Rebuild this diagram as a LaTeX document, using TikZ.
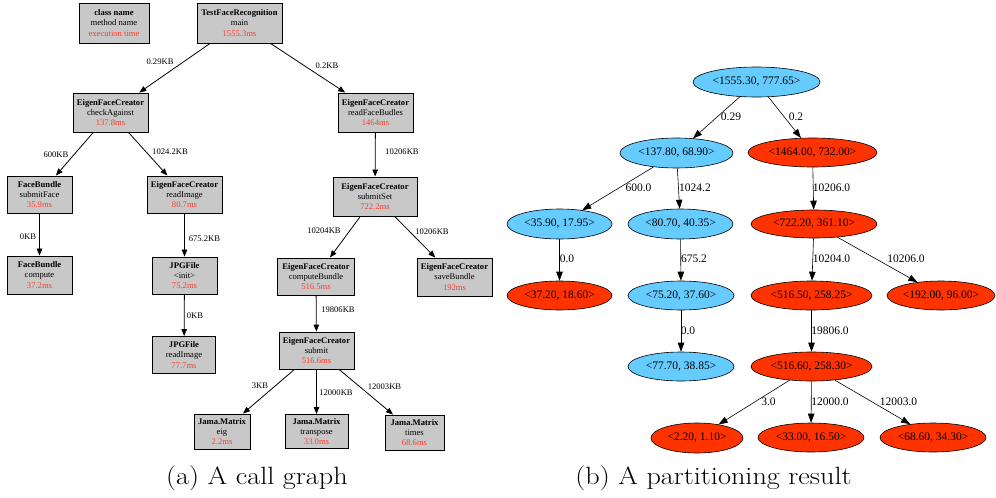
\documentclass[tikz,border=0pt]{standalone}
\usepackage{fontspec}
\usepackage{graphicx}
\newfontfamily\tms{Liberation Serif}
\usetikzlibrary{shapes.geometric,arrows.meta}
\definecolor{boxgray}{RGB}{200,200,200}
\definecolor{timered}{RGB}{250,62,40}
\definecolor{partblue}{RGB}{102,204,255}
\definecolor{partred}{RGB}{255,51,0}
\tikzset{
  cbox/.style 2 args={draw, line width=0.95pt, fill=boxgray, minimum width=#1pt, minimum height=#2pt,
    inner sep=0pt, align=center, font=\tms\fontsize{8.6}{10.3}\selectfont},
  pell/.style n args={3}{ellipse, draw, line width=0.6pt, fill=#3, minimum width=#1pt, minimum height=#2pt,
    inner sep=0pt, font=\tms\fontsize{11.5}{13}\selectfont},
  cedge/.style={-{Triangle[length=7pt,width=5.5pt]}, line width=0.8pt},
  pedge/.style={-{Triangle[length=9pt,width=6.5pt]}, line width=0.6pt},
  clbl/.style={inner sep=0pt, font=\tms\fontsize{8.6}{10.3}\selectfont},
  plbl/.style={inner sep=0pt, font=\tms\fontsize{11.5}{13}\selectfont},
  caption/.style={inner sep=0pt, font=\fontsize{25}{28}\selectfont}
}
\newcommand{\cg}[3]{\textbf{#1}\\#2\\\textcolor{timered}{#3}}
\begin{document}
\begin{tikzpicture}[x=1pt,y=-1pt]
\useasboundingbox (0,0) rectangle (996,498);
% ---------------- (a) call graph ----------------
\node[cbox={70}{40}] (leg)  at (114,23)    {\cg{class name}{method name}{execution time}};
\node[cbox={85}{40}] (main) at (239.5,23)  {\cg{TestFaceRecognition}{main}{1555.3ms}};
\node[cbox={75}{39}] (chk)  at (110.5,112.5) {\cg{EigenFaceCreator}{checkAgainst}{137.8ms}};
\node[cbox={75}{39}] (rfb)  at (375.5,112.5) {\cg{EigenFaceCreator}{readFaceBudles}{1464ms}};
\node[cbox={65}{37}] (sf)   at (39.5,194.5) {\cg{FaceBundle}{submitFace}{35.9ms}};
\node[cbox={75}{37}] (ri)   at (184.5,194.5) {\cg{EigenFaceCreator}{readImage}{80.7ms}};
\node[cbox={65}{38}] (cmp)  at (39.5,275)   {\cg{FaceBundle}{compute}{37.2ms}};
\node[cbox={65}{37}] (jpi)  at (184.5,275.5) {\cg{JPGFile}{<init>}{75.2ms}};
\node[cbox={63}{37}] (jpr)  at (184,355)    {\cg{JPGFile}{readImage}{77.7ms}};
\node[cbox={84}{39}] (ss)   at (375,196.5)  {\cg{EigenFaceCreator}{submitSet}{722.2ms}};
\node[cbox={77}{37}] (cb)   at (316,276.5)  {\cg{EigenFaceCreator}{computeBundle}{516.5ms}};
\node[cbox={75}{38}] (sb)   at (454.5,277)  {\cg{EigenFaceCreator}{saveBundle}{192ms}};
\node[cbox={75}{37}] (sub)  at (316.5,350.5) {\cg{EigenFaceCreator}{submit}{516.6ms}};
\node[cbox={56}{35}] (eig)  at (222,431.5)  {\cg{Jama.Matrix}{eig}{2.2ms}};
\node[cbox={63}{34}] (tr)   at (316.5,431.5) {\cg{Jama.Matrix}{transpose}{33.0ms}};
\node[cbox={59}{35}] (tm)   at (414.5,432.5) {\cg{Jama.Matrix}{times}{68.6ms}};

\draw[cedge] (main) -- (chk);
\draw[cedge] (main) -- (rfb);
\draw[cedge] (chk) -- (sf);
\draw[cedge] (chk) -- (ri);
\draw[cedge] (sf) -- (cmp);
\draw[cedge] (ri) -- (jpi);
\draw[cedge] (jpi) -- (jpr);
\draw[cedge] (rfb) -- (ss);
\draw[cedge] (ss) -- (cb);
\draw[cedge] (ss) -- (sb);
\draw[cedge] (cb) -- (sub);
\draw[cedge] (sub) -- (eig);
\draw[cedge] (sub) -- (tr);
\draw[cedge] (sub) -- (tm);

\node[clbl] (l1)  at (160,62)   {0.29KB};
\node[clbl] (l2)  at (327,66)   {0.2KB};
\node[clbl] (l3)  at (56,155)   {600KB};
\node[clbl] (l4)  at (170,152)  {1024.2KB};
\node[clbl] (l5)  at (28,237)   {0KB};
\node[clbl] (l6)  at (204.5,239) {675.2KB};
\node[clbl] (l7)  at (195,316)  {0KB};
\node[clbl] (l8)  at (402,152)  {10206KB};
\node[clbl] (l9)  at (324,231)  {10204KB};
\node[clbl] (l10) at (432,231.5) {10206KB};
\node[clbl] (l11) at (338,310)  {19806KB};
\node[clbl] (l12) at (260,386)  {3KB};
\node[clbl] (l13) at (336,393)  {12000KB};
\node[clbl] (l14) at (384.5,387) {12003KB};

% ---------------- (b) partitioning result ----------------
\node[pell={127}{30}{partblue}] (r0)  at (756.5,82)    {<1555.30, 777.65>};
\node[pell={113}{30}{partblue}] (r1)  at (676.5,153)   {<137.80, 68.90>};
\node[pell={129}{29}{partred}]  (r2)  at (812.5,152.5) {<1464.00, 732.00>};
\node[pell={105}{30}{partblue}] (r3)  at (559.5,224)   {<35.90, 17.95>};
\node[pell={105}{30}{partblue}] (r4)  at (680.5,224)   {<80.70, 40.35>};
\node[pell={126}{28}{partred}]  (r5)  at (814,224)     {<722.20, 361.10>};
\node[pell={105}{29}{partred}]  (r6)  at (559.5,295.5) {<37.20, 18.60>};
\node[pell={106}{29}{partblue}] (r7)  at (681,295.5)   {<75.20, 37.60>};
\node[pell={106}{29}{partblue}] (r8)  at (681,366.5)   {<77.70, 38.85>};
\node[pell={121}{29}{partred}]  (r9)  at (811.5,295.5) {<516.50, 258.25>};
\node[pell={108}{29}{partred}]  (r10) at (941,295.5)   {<192.00, 96.00>};
\node[pell={121}{29}{partred}]  (r11) at (811.5,366.5) {<516.60, 258.30>};
\node[pell={92}{30}{partred}]   (r12) at (697,438)     {<2.20, 1.10>};
\node[pell={106}{29}{partred}]  (r13) at (811,437.5)   {<33.00, 16.50>};
\node[pell={106}{29}{partred}]  (r14) at (933,437.5)   {<68.60, 34.30>};

\draw[pedge] (r0) -- (r1);
\draw[pedge] (r0) -- (r2);
\draw[pedge] (r1) -- (r3);
\draw[pedge] (r1) -- (r4);
\draw[pedge] (r3) -- (r6);
\draw[pedge] (r4) -- (r7);
\draw[pedge] (r7) -- (r8);
\draw[pedge] (r2) -- (r5);
\draw[pedge] (r5) -- (r9);
\draw[pedge] (r5) -- (r10);
\draw[pedge] (r9) -- (r11);
\draw[pedge] (r11) -- (r12);
\draw[pedge] (r11) -- (r13);
\draw[pedge] (r11) -- (r14);

\node[plbl] (p1)  at (731,117)   {0.29};
\node[plbl] (p2)  at (796,117)   {0.2};
\node[plbl] (p3)  at (638.5,188) {600.0};
\node[plbl] (p4)  at (695,188)   {1024.2};
\node[plbl] (p5)  at (567,259)   {0.0};
\node[plbl] (p6)  at (694,259)   {675.2};
\node[plbl] (p7)  at (688,331)   {0.0};
\node[plbl] (p8)  at (768.5,402) {3.0};
\node[plbl] (p9)  at (831.5,188) {10206.0};
\node[plbl] (p10) at (831.5,259) {10204.0};
\node[plbl] (p11) at (906,259)   {10206.0};
\node[plbl] (p12) at (830,331)   {19806.0};
\node[plbl] (p13) at (830,402)   {12000.0};
\node[plbl] (p14) at (898.5,402) {12003.0};

% ---------------- captions ----------------
\node[caption] (capa) at (257,478.5) {\scalebox{1.13}[1]{(a) A call graph}};
\node[caption] (capb) at (713.5,478.5) {\scalebox{1.13}[1]{(b) A partitioning result}};
\end{tikzpicture}
\end{document}
